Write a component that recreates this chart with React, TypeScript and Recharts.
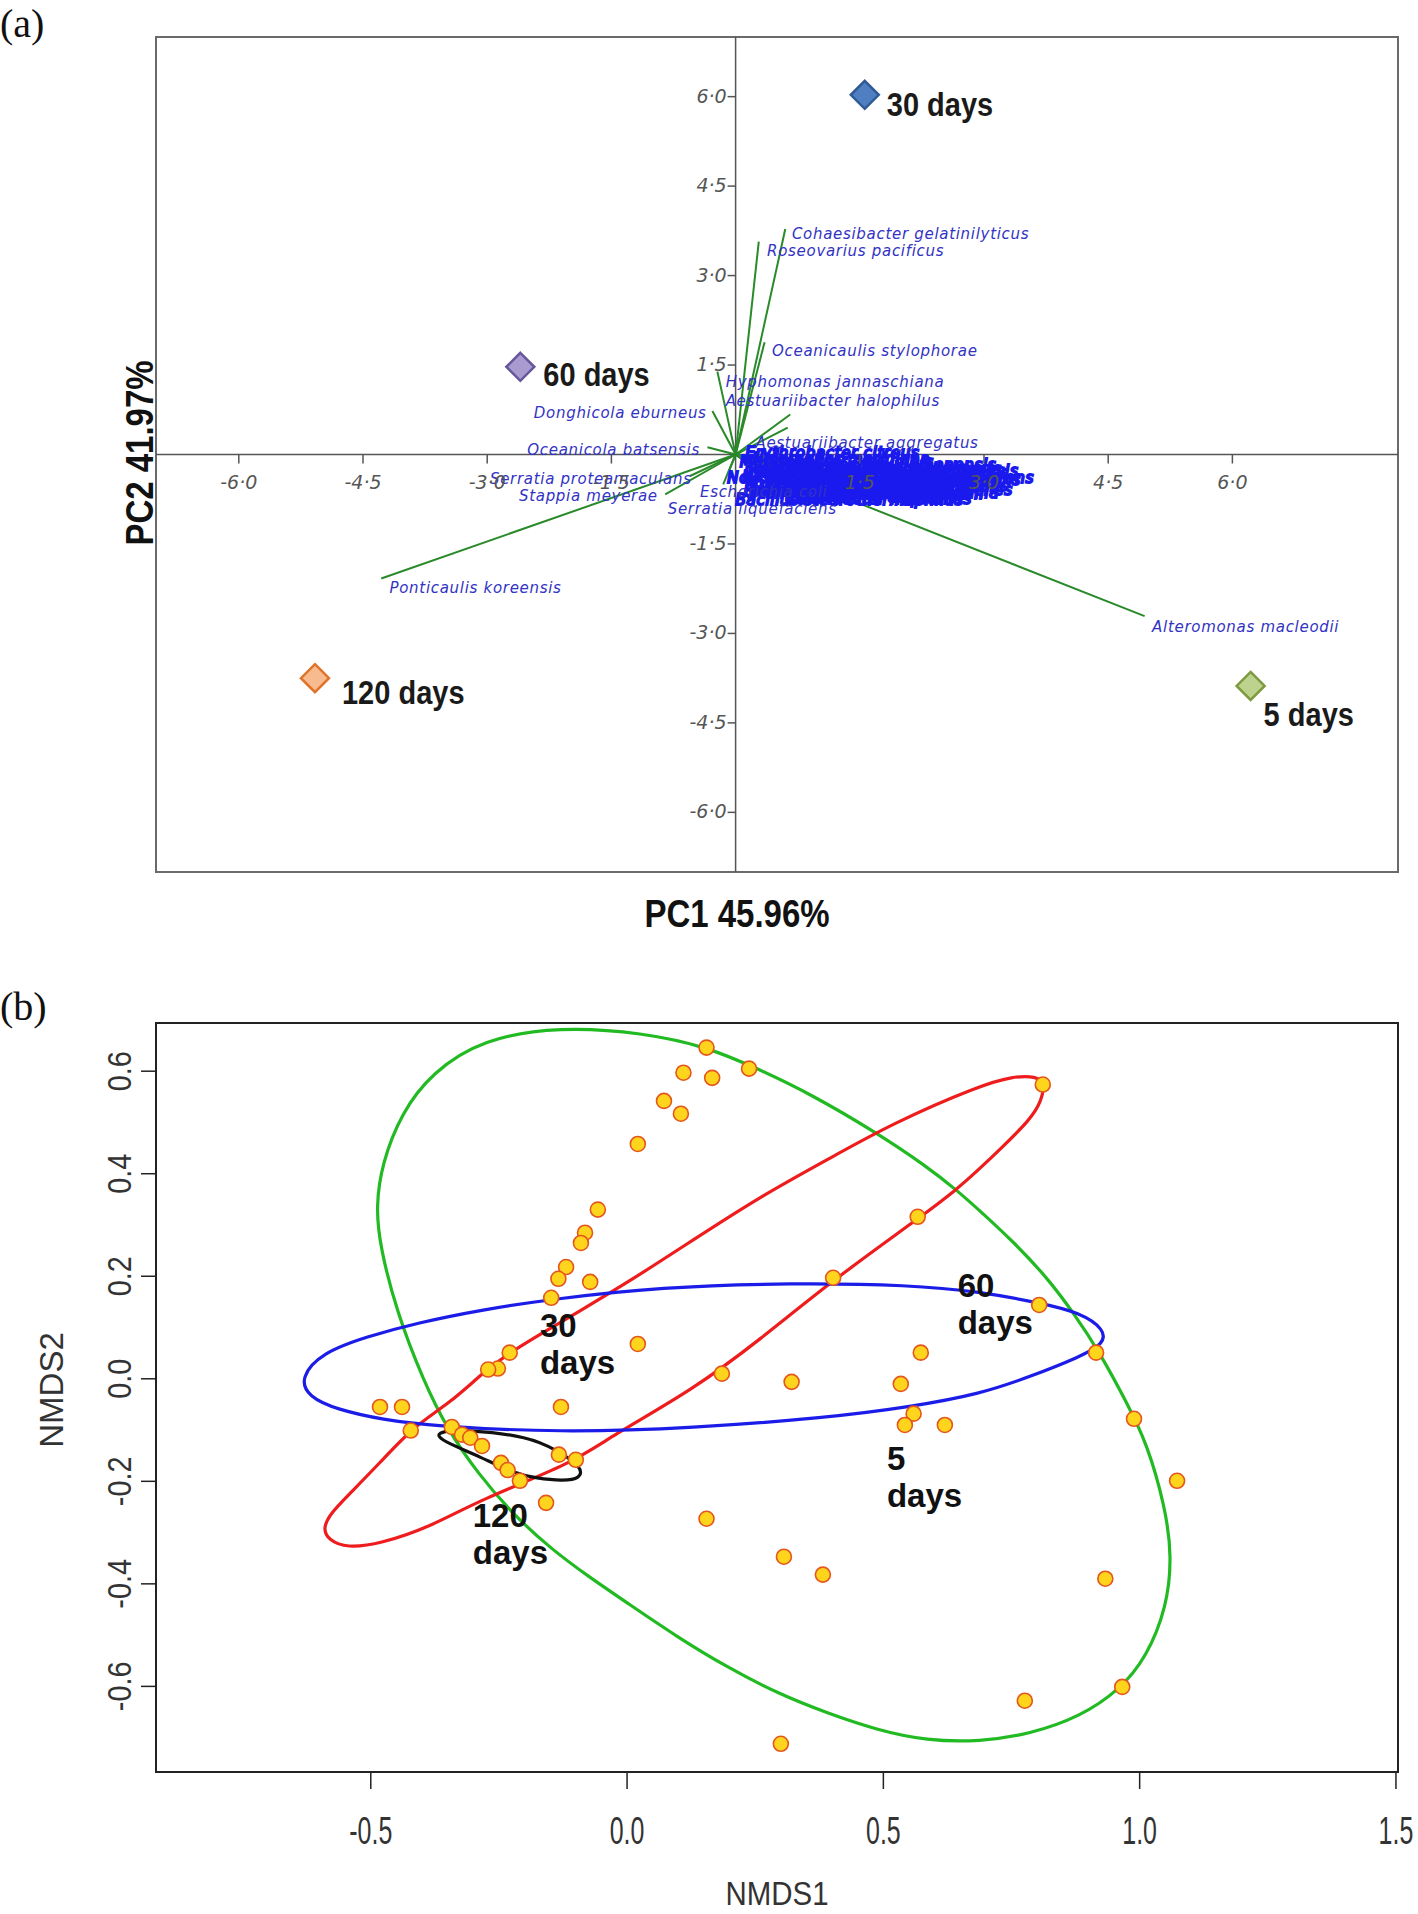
import React from "react";
import { ScatterChart, Scatter, XAxis, YAxis, ReferenceLine, ReferenceArea } from "recharts";

// ---------- panel (a): PCA biplot ----------
const pcaXDomain: [number, number] = [-7, 8];
const pcaYDomain: [number, number] = [-7, 7];
const pcaXTicks = [-6, -4.5, -3, -1.5, 1.5, 3, 4.5, 6];
const pcaYTicks = [6, 4.5, 3, 1.5, -1.5, -3, -4.5, -6];

const samples = [
    { name: "30 days", x: 1.56, y: 6.03 },
    { name: "60 days", x: -2.6, y: 1.47 },
    { name: "120 days", x: -5.08, y: -3.75 },
    { name: "5 days", x: 6.22, y: -3.88 },
];

// arrow tip (x, y) and label anchor (lx, ly)
const species = [
    { name: "Cohaesibacter gelatinilyticus", x: 0.6, y: 3.78, lx: 0.68, ly: 3.69, anchor: "start" },
    { name: "Roseovarius pacificus", x: 0.28, y: 3.57, lx: 0.38, ly: 3.41, anchor: "start" },
    { name: "Oceanicaulis stylophorae", x: 0.35, y: 1.88, lx: 0.44, ly: 1.73, anchor: "start" },
    { name: "Hyphomonas jannaschiana", x: -0.22, y: 1.39, lx: -0.12, ly: 1.22, anchor: "start" },
    { name: "Aestuariibacter halophilus", x: 0.66, y: 0.67, lx: -0.12, ly: 0.9, anchor: "start" },
    { name: "Donghicola eburneus", x: -0.28, y: 0.73, lx: -0.35, ly: 0.69, anchor: "end" },
    { name: "Oceanicola batsensis", x: -0.34, y: 0.12, lx: -0.43, ly: 0.08, anchor: "end" },
    { name: "Aestuariibacter aggregatus", x: 0.63, y: 0.45, lx: 0.24, ly: 0.2, anchor: "start" },
    { name: "Serratia proteamaculans", x: -0.55, y: -0.36, lx: -0.53, ly: -0.41, anchor: "end" },
    { name: "Stappia meyerae", x: -0.85, y: -0.67, lx: -0.94, ly: -0.69, anchor: "end" },
    { name: "Escherichia coli", x: -0.1, y: -0.35, lx: -0.43, ly: -0.63, anchor: "start" },
    { name: "Serratia liquefaciens", x: -0.15, y: -0.5, lx: -0.82, ly: -0.92, anchor: "start" },
    { name: "Ponticaulis koreensis", x: -4.28, y: -2.08, lx: -4.18, ly: -2.24, anchor: "start" },
    { name: "Alteromonas macleodii", x: 4.94, y: -2.71, lx: 5.03, ly: -2.9, anchor: "start" },
];

// the crowded labels right of the origin
const crowded = [
    { name: "Erythrobacter citreus", x: 0.9, y: -0.1, lx: 0.12, ly: 0.02 },
    { name: "Halomonas meridiana", x: 1.2, y: -0.2, lx: 0.2, ly: -0.07 },
    { name: "Marinobacter salsuginis", x: 0.5, y: -0.3, lx: 0.05, ly: -0.13 },
    { name: "Thalassospira xiamenensis", x: 1.6, y: -0.3, lx: 0.5, ly: -0.18 },
    { name: "Alcanivorax borkumensis", x: 1.1, y: -0.35, lx: 0.3, ly: -0.22 },
    { name: "Maricaulis maris", x: 2.4, y: -0.3, lx: 1.6, ly: -0.25 },
    { name: "Ruegeria pomeroyi", x: 0.7, y: -0.4, lx: 0.15, ly: -0.26 },
    { name: "Kordiimonas gwangyangensis", x: 1.8, y: -0.25, lx: 0.5, ly: -0.28 },
    { name: "Pseudoalteromonas haloplanktis", x: 1.4, y: -0.45, lx: 0.1, ly: -0.31 },
    { name: "Idiomarina loihiensis", x: 0.8, y: -0.5, lx: 0.45, ly: -0.33 },
    { name: "Vibrio alginolyticus", x: 2.2, y: -0.4, lx: 1.35, ly: -0.35 },
    { name: "Nitratireductor aquibiodomus", x: 1.3, y: -0.55, lx: 0.08, ly: -0.37 },
    { name: "Novosphingobium pentaromativorans", x: 2.0, y: -0.5, lx: -0.1, ly: -0.4 },
    { name: "Parvibaculum lavamentivorans", x: 2.6, y: -0.45, lx: 0.4, ly: -0.42 },
    { name: "Cycloclasticus pugetii", x: 0.6, y: -0.6, lx: 1.0, ly: -0.44 },
    { name: "Sulfitobacter pontiacus", x: 1.5, y: -0.6, lx: 0.6, ly: -0.47 },
    { name: "Muricauda ruestringensis", x: 1.0, y: -0.65, lx: 0.12, ly: -0.5 },
    { name: "Achromobacter xylosoxidans", x: 2.3, y: -0.6, lx: 0.45, ly: -0.52 },
    { name: "Ochrobactrum anthropi", x: 0.9, y: -0.7, lx: 0.2, ly: -0.55 },
    { name: "Pseudomonas pseudoalcaligenes", x: 1.9, y: -0.7, lx: 0.1, ly: -0.59 },
    { name: "Brevundimonas diminuta", x: 0.7, y: -0.75, lx: 0.1, ly: -0.61 },
    { name: "Stenotrophomonas maltophilia", x: 1.6, y: -0.75, lx: 0.15, ly: -0.65 },
    { name: "Hoeflea alexandrii", x: 2.5, y: -0.7, lx: 1.2, ly: -0.67 },
    { name: "Shewanella algae", x: 1.2, y: -0.8, lx: 0.65, ly: -0.71 },
    { name: "Celeribacter neptunius", x: 2.1, y: -0.8, lx: 0.6, ly: -0.74 },
    { name: "Bacillus stearothermophilus", x: 1.4, y: -0.85, lx: 0.0, ly: -0.77 },
];

// ---------- panel (b): NMDS ----------
const nmdsXDomain: [number, number] = [-0.919, 1.504];
const nmdsYDomain: [number, number] = [-0.767, 0.694];
const nmdsXTicks = [-0.5, 0, 0.5, 1, 1.5];
const nmdsYTicks = [-0.6, -0.4, -0.2, 0, 0.2, 0.4, 0.6];

const nmdsX = [
    0.155, 0.11, 0.166, 0.238, 0.072, 0.105, 0.811, 0.021, -0.057, 0.567, -0.082, -0.09, -0.119, -0.134,
    -0.072, 0.402, -0.148, 0.804, 0.915, 0.573, 0.021, -0.229, -0.252, -0.271, 0.185, 0.321, 0.534, 0.989,
    -0.482, -0.439, -0.129, -0.422, -0.342, -0.322, -0.306, -0.283, 0.559, 0.542, 0.62, -0.133, -0.1,
    -0.246, -0.233, -0.209, 1.073, -0.158, 0.155, 0.306, 0.382, 0.933, 0.776, 0.966, 0.3,
];
const nmdsY = [
    0.646, 0.597, 0.587, 0.605, 0.542, 0.517, 0.574, 0.458, 0.33, 0.316, 0.285, 0.265, 0.218, 0.195,
    0.189, 0.197, 0.158, 0.144, 0.051, 0.051, 0.068, 0.051, 0.02, 0.018, 0.01, -0.006, -0.01, -0.078,
    -0.055, -0.055, -0.055, -0.101, -0.094, -0.109, -0.115, -0.131, -0.068, -0.09, -0.09, -0.148, -0.158,
    -0.164, -0.178, -0.199, -0.199, -0.242, -0.273, -0.347, -0.382, -0.39, -0.628, -0.601, -0.712,
];

// outlines read along each ellipse
const greenRing = [
    [-0.131, 0.687], [0.031, 0.675], [0.155, 0.648], [0.259, 0.603], [0.357, 0.556], [0.487, 0.48],
    [0.585, 0.414], [0.643, 0.368], [0.688, 0.328], [0.753, 0.268], [0.819, 0.198], [0.87, 0.13],
    [0.923, 0.05], [0.975, -0.047], [1.014, -0.125], [1.05, -0.25], [1.063, -0.347], [1.053, -0.445],
    [1.014, -0.542], [0.961, -0.607], [0.884, -0.659], [0.786, -0.693], [0.688, -0.708], [0.585, -0.706],
    [0.487, -0.685], [0.39, -0.652], [0.292, -0.613], [0.194, -0.562], [0.097, -0.503], [0.0, -0.437],
    [-0.075, -0.386], [-0.148, -0.332], [-0.222, -0.265], [-0.29, -0.186], [-0.351, -0.098],
    [-0.398, -0.002], [-0.449, 0.129], [-0.482, 0.258], [-0.49, 0.336], [-0.478, 0.421], [-0.44, 0.519],
    [-0.381, 0.597], [-0.282, 0.663],
];
const redRing = [
    [0.815, 0.578], [0.808, 0.54], [0.786, 0.505], [0.727, 0.447], [0.688, 0.41], [0.643, 0.369],
    [0.565, 0.31], [0.402, 0.193], [0.259, 0.076], [0.129, -0.021], [-0.033, -0.113], [-0.105, -0.164],
    [-0.287, -0.236], [-0.384, -0.289], [-0.482, -0.322], [-0.547, -0.33], [-0.582, -0.315],
    [-0.594, -0.292], [-0.578, -0.262], [-0.547, -0.23], [-0.482, -0.164], [-0.418, -0.094],
    [-0.345, -0.047], [-0.281, 0.012], [-0.229, 0.051], [-0.164, 0.09], [-0.098, 0.129], [0.0, 0.187],
    [0.129, 0.271], [0.259, 0.355], [0.39, 0.427], [0.519, 0.499], [0.688, 0.572], [0.753, 0.59],
    [0.798, 0.59],
];
const blueRing = [
    [-0.638, 0.002], [-0.595, 0.051], [-0.508, 0.082], [-0.41, 0.109], [-0.281, 0.135], [-0.15, 0.155],
    [0.064, 0.179], [0.324, 0.187], [0.552, 0.183], [0.688, 0.17], [0.806, 0.148], [0.884, 0.129],
    [0.932, 0.096], [0.93, 0.068], [0.884, 0.043], [0.786, 0.004], [0.688, -0.03], [0.552, -0.055],
    [0.39, -0.076], [0.129, -0.096], [-0.131, -0.105], [-0.379, -0.092], [-0.476, -0.08],
    [-0.566, -0.06], [-0.622, -0.035],
];
const blackRing = [
    [-0.367, -0.103], [-0.313, -0.099], [-0.19, -0.113], [-0.138, -0.139], [-0.087, -0.172],
    [-0.091, -0.195], [-0.126, -0.199], [-0.176, -0.194], [-0.222, -0.184], [-0.287, -0.152],
    [-0.351, -0.125], [-0.369, -0.113],
];

const groupLabels = [
    { x: -0.17, y: 0.082, top: "30", bottom: "days" },
    { x: 0.645, y: 0.16, top: "60", bottom: "days" },
    { x: 0.507, y: -0.178, top: "5", bottom: "days" },
    { x: -0.301, y: -0.289, top: "120", bottom: "days" },
];

// ---------- layout ----------
const W = 1418;
const A = { h: 960, top: 37, right: 20, bottom: 58, left: 126, axisX: 30, axisY: 30 };
const B = { h: 954, top: 63, right: 20, bottom: 42, left: 56, axisX: 100, axisY: 100 };
const aLeft = A.left + A.axisY;
const aPlotW = W - aLeft - A.right;
const aPlotH = A.h - A.top - A.bottom - A.axisX;
const aZeroX = aLeft + aPlotW * (-pcaXDomain[0] / (pcaXDomain[1] - pcaXDomain[0]));
const aZeroY = A.top + aPlotH * (pcaYDomain[1] / (pcaYDomain[1] - pcaYDomain[0]));
const bLeft = B.left + B.axisY;
const bBottom = B.h - B.bottom - B.axisX;

const sampleStyle: Record<string, { fill: string; stroke: string; dx: number; dy: number }> = {
    "30 days": { fill: "#4f7fc0", stroke: "#2f5a96", dx: 22, dy: 21 },
    "60 days": { fill: "#a99bd0", stroke: "#65579a", dx: 23, dy: 19 },
    "120 days": { fill: "#f8bb90", stroke: "#e0732a", dx: 27, dy: 26 },
    "5 days": { fill: "#bdd28c", stroke: "#7d9a40", dx: 13, dy: 40 },
};

const dot = (v: number) => v.toFixed(1).replace(".", "·");

const PcaXTick = ({ x, payload }: any) => (
    <g>
        <line x1={x} x2={x} y1={aZeroY} y2={aZeroY + 9} stroke="#555" strokeWidth={1.5} />
        <text x={x} y={aZeroY + 34} textAnchor="middle" fontFamily="DejaVu Sans" fontStyle="italic" fontSize={19} fill="#555">
            {dot(payload.value)}
        </text>
    </g>
);

const PcaYTick = ({ y, payload }: any) => (
    <g>
        <line x1={aZeroX - 8} x2={aZeroX} y1={y} y2={y} stroke="#555" strokeWidth={1.5} />
        <text x={aZeroX - 9} y={y + 6} textAnchor="end" fontFamily="DejaVu Sans" fontStyle="italic" fontSize={19} fill="#555">
            {dot(payload.value)}
        </text>
    </g>
);

const SpeciesLabel = ({ cx, cy, payload }: any) => (
    <text x={cx} y={cy} textAnchor={payload.anchor} dominantBaseline="central" fontFamily="DejaVu Sans" fontStyle="italic" fontSize={15} letterSpacing={0.7} fill="#3232c4">
        {payload.name}
    </text>
);

const CrowdedLabel = ({ cx, cy, payload }: any) => (
    <text x={cx} y={cy} dominantBaseline="central" fontFamily="DejaVu Sans" fontStyle="italic" fontSize={15} letterSpacing={0.7} fill="#1a1aee" stroke="#1a1aee" strokeWidth={2}>
        {payload.name}
    </text>
);

const SampleMarker = ({ cx, cy, payload }: any) => {
    const s = sampleStyle[payload.name];
    const r = 14;
    return (
        <g>
            <polygon points={`${cx},${cy - r} ${cx + r},${cy} ${cx},${cy + r} ${cx - r},${cy}`} fill={s.fill} stroke={s.stroke} strokeWidth={2.5} />
            <text transform={`translate(${cx + s.dx} ${cy + s.dy}) scale(1 1.15)`} fontFamily="Liberation Sans" fontWeight="bold" fontSize={29} fill="#1a1a1a">
                {payload.name}
            </text>
        </g>
    );
};

const NmdsXTick = ({ x, payload }: any) => (
    <g>
        <line x1={x} x2={x} y1={bBottom} y2={bBottom + 17} stroke="#222" strokeWidth={1.5} />
        <text transform={`translate(${x} ${bBottom + 72}) scale(0.78 1.2)`} textAnchor="middle" fontFamily="Liberation Sans" fontSize={32} fill="#333">
            {payload.value.toFixed(1)}
        </text>
    </g>
);

const NmdsYTick = ({ y, payload }: any) => (
    <g>
        <line x1={bLeft - 15} x2={bLeft} y1={y} y2={y} stroke="#222" strokeWidth={1.5} />
        <text transform={`translate(131 ${y}) rotate(-90) scale(0.9 1.05)`} textAnchor="middle" fontFamily="Liberation Sans" fontSize={32} fill="#333">
            {payload.value.toFixed(1)}
        </text>
    </g>
);

const PointMarker = ({ cx, cy }: any) => <circle cx={cx} cy={cy} r={7.5} fill="#ffd41c" stroke="#e4561e" strokeWidth={1.6} />;

const GroupLabel = ({ cx, cy, payload }: any) => (
    <text fontFamily="Liberation Sans" fontWeight="bold" fontSize={33} fill="#111">
        <tspan x={cx} y={cy}>{payload.top}</tspan>
        <tspan x={cx} y={cy + 37}>{payload.bottom}</tspan>
    </text>
);

const Nothing = () => <g />;

const ring = (pts: number[][]) => pts.map(([x, y]) => ({ x, y }));

export default function App() {
    const speciesLabels = species.map((s) => ({ x: s.lx, y: s.ly, name: s.name, anchor: s.anchor }));
    const crowdedLabels = crowded.map((s) => ({ x: s.lx, y: s.ly, name: s.name }));
    const nmdsPoints = nmdsX.map((x, i) => ({ x, y: nmdsY[i] }));
    const rings = [
        { data: ring(greenRing), color: "#22ba22" },
        { data: ring(redRing), color: "#ee1c1c" },
        { data: ring(blueRing), color: "#1c1ce8" },
        { data: ring(blackRing), color: "#111111" },
    ];

    return (
        <div style={{ position: "absolute", left: 0, top: 0, width: W, height: 1914, background: "#fff" }}>
            <div style={{ position: "absolute", left: 0, top: 0 }}>
                <ScatterChart width={W} height={A.h} margin={{ top: A.top, right: A.right, bottom: A.bottom, left: A.left }}>
                    <XAxis type="number" dataKey="x" domain={pcaXDomain} ticks={pcaXTicks} interval={0} height={A.axisX} axisLine={false} tickLine={false} tick={(p: any) => <PcaXTick {...p} />} allowDataOverflow />
                    <YAxis type="number" dataKey="y" domain={pcaYDomain} ticks={pcaYTicks} interval={0} width={A.axisY} axisLine={false} tickLine={false} tick={(p: any) => <PcaYTick {...p} />} allowDataOverflow />
                    <ReferenceArea x1={pcaXDomain[0]} x2={pcaXDomain[1]} y1={pcaYDomain[0]} y2={pcaYDomain[1]} fill="none" fillOpacity={0} stroke="#6a6a6a" strokeWidth={2} />
                    <ReferenceLine x={0} stroke="#555" strokeWidth={1.5} />
                    <ReferenceLine y={0} stroke="#555" strokeWidth={1.5} />
                    {[...species, ...crowded].map((s) => (
                        <ReferenceLine key={"arrow-" + s.name} segment={[{ x: 0, y: 0 }, { x: s.x, y: s.y }]} stroke="#2a8a2a" strokeWidth={2} />
                    ))}
                    <Scatter data={crowdedLabels} shape={(p: any) => <CrowdedLabel {...p} />} isAnimationActive={false} />
                    <Scatter data={speciesLabels} shape={(p: any) => <SpeciesLabel {...p} />} isAnimationActive={false} />
                    <Scatter data={samples} shape={(p: any) => <SampleMarker {...p} />} isAnimationActive={false} />
                </ScatterChart>
            </div>

            <div style={{ position: "absolute", left: 0, top: A.h }}>
                <ScatterChart width={W} height={B.h} margin={{ top: B.top, right: B.right, bottom: B.bottom, left: B.left }}>
                    <XAxis type="number" dataKey="x" domain={nmdsXDomain} ticks={nmdsXTicks} interval={0} height={B.axisX} axisLine={false} tickLine={false} tick={(p: any) => <NmdsXTick {...p} />} allowDataOverflow />
                    <YAxis type="number" dataKey="y" domain={nmdsYDomain} ticks={nmdsYTicks} interval={0} width={B.axisY} axisLine={false} tickLine={false} tick={(p: any) => <NmdsYTick {...p} />} allowDataOverflow />
                    <ReferenceArea x1={nmdsXDomain[0]} x2={nmdsXDomain[1]} y1={nmdsYDomain[0]} y2={nmdsYDomain[1]} fill="none" fillOpacity={0} stroke="#222" strokeWidth={2} />
                    {rings.map((r) => (
                        <Scatter
                            key={r.color}
                            data={r.data}
                            fill={r.color}
                            line={{ stroke: r.color, strokeWidth: 3.2 }}
                            lineJointType="basisClosed"
                            shape={() => <Nothing />}
                            isAnimationActive={false}
                        />
                    ))}
                    <Scatter data={nmdsPoints} shape={(p: any) => <PointMarker {...p} />} isAnimationActive={false} />
                    <Scatter data={groupLabels} shape={(p: any) => <GroupLabel {...p} />} isAnimationActive={false} />
                </ScatterChart>
            </div>

            <svg width={W} height={1914} style={{ position: "absolute", left: 0, top: 0, pointerEvents: "none" }}>
                <text x={0} y={37} fontFamily="Liberation Serif" fontSize={40} fill="#111">(a)</text>
                <text x={0} y={1020} fontFamily="Liberation Serif" fontSize={40} fill="#111">(b)</text>
                <text transform="translate(737 927) scale(1 1.18)" textAnchor="middle" fontFamily="Liberation Sans" fontWeight="bold" fontSize={33} fill="#111">
                    PC1 45.96%
                </text>
                <text transform="translate(153 453) rotate(-90) scale(1 1.18)" textAnchor="middle" fontFamily="Liberation Sans" fontWeight="bold" fontSize={33} fill="#111">
                    PC2 41.97%
                </text>
                <text transform="translate(777 1905) scale(0.95 1.1)" textAnchor="middle" fontFamily="Liberation Sans" fontSize={31} fill="#333">
                    NMDS1
                </text>
                <text transform="translate(63 1390) rotate(-90)" textAnchor="middle" fontFamily="Liberation Sans" fontSize={33} fill="#333">
                    NMDS2
                </text>
            </svg>
        </div>
    );
}
